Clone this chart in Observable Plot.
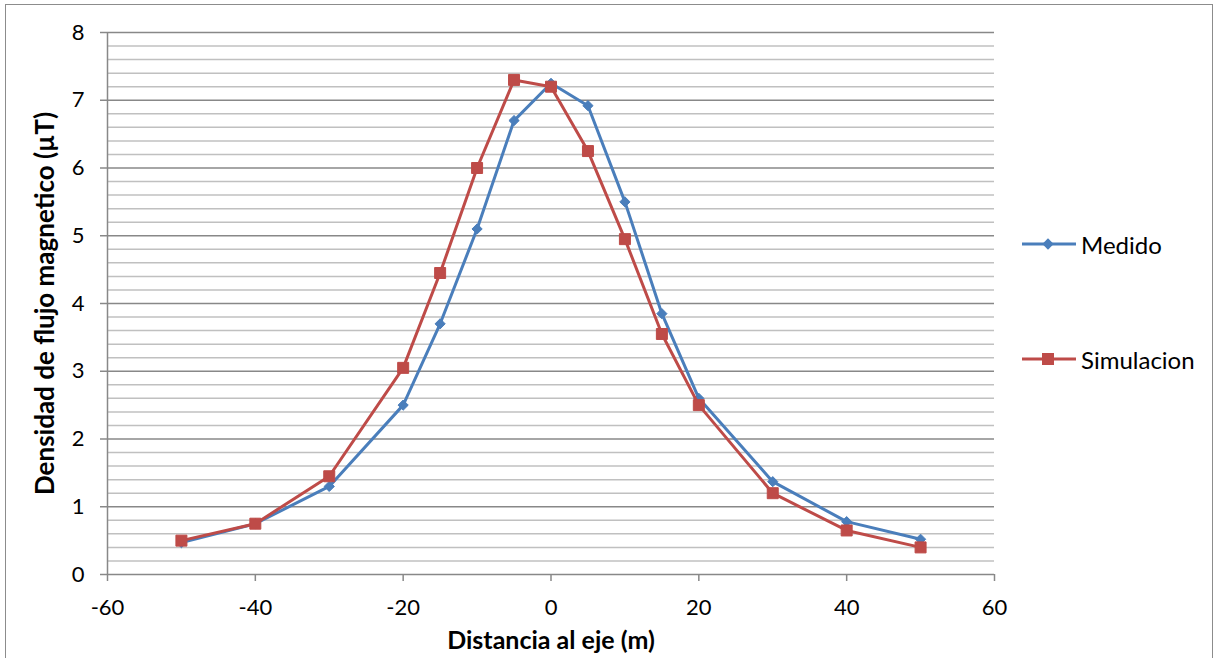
<!DOCTYPE html>
<html>
<head>
<meta charset="utf-8">
<script src="https://cdn.jsdelivr.net/npm/d3@7"></script>
<script src="https://cdn.jsdelivr.net/npm/@observablehq/plot@0.6"></script>
<style>
  html, body { margin: 0; padding: 0; background: #fff; }
  #wrap { position: relative; width: 1216px; height: 658px; overflow: hidden; font-family: Lato, "Open Sans", sans-serif; }
  #frame { position: absolute; left: 5px; top: 4px; width: 1208px; height: 670px; border: 1.5px solid #8c8c8c; box-sizing: border-box; }
  #chart { position: absolute; left: 0; top: 0; }
  .leg { position: absolute; display: flex; align-items: center; font-size: 24px; color: #000; }
  .leg svg { margin-right: 5px; }
</style>
</head>
<body>
<div id="wrap">
  <div id="frame"></div>
  <div id="chart"></div>
</div>
<script>
const distances = [-50, -40, -30, -20, -15, -10, -5, 0, 5, 10, 15, 20, 30, 40, 50];
const medido = [0.47, 0.75, 1.3, 2.5, 3.7, 5.1, 6.7, 7.25, 6.92, 5.5, 3.85, 2.6, 1.37, 0.78, 0.52];
const simulacion = [0.5, 0.75, 1.45, 3.05, 4.45, 6.0, 7.3, 7.2, 6.25, 4.95, 3.55, 2.5, 1.2, 0.65, 0.4];
const seriesNames = ["Medido", "Simulacion"];
const seriesColors = ["#4a7ebb", "#be4b48"];
const xTicks = [-60, -40, -20, 0, 20, 40, 60];
const yTicks = [0, 1, 2, 3, 4, 5, 6, 7, 8];
const xLabel = "Distancia al eje (m)";
const yLabel = "Densidad de flujo magnetico (µT)";

const dataM = distances.map((d, i) => ({x: d, y: medido[i]}));
const dataS = distances.map((d, i) => ({x: d, y: simulacion[i]}));
const yMinor = d3.range(1, 40).map(i => i / 5).filter(v => Math.abs(v - Math.round(v)) > 1e-9);

const chart = Plot.plot({
  width: 1216,
  height: 658,
  marginLeft: 107,
  marginRight: 222,
  marginTop: 32,
  marginBottom: 84,
  style: {fontFamily: "Lato, 'Open Sans', sans-serif", background: "transparent", overflow: "visible"},
  x: {domain: [-60, 60]},
  y: {domain: [0, 8]},
  marks: [
    Plot.ruleY(yMinor, {x1: -60, x2: 60, stroke: "#c0c0c0", strokeWidth: 1.5}),
    Plot.ruleY(yTicks, {x1: -60, x2: 60, stroke: "#888888", strokeWidth: 1.5}),
    Plot.ruleX([-60], {y1: 0, y2: 8, stroke: "#888888", strokeWidth: 1.5}),
    Plot.axisY(yTicks, {tickSize: 7, tickPadding: 16, stroke: "#888888", strokeWidth: 1.5, fill: "#000", fontSize: 22, label: null, tickFormat: d => String(d)}),
    Plot.axisX(xTicks, {tickSize: 7, tickPadding: 18, stroke: "#888888", strokeWidth: 1.5, fill: "#000", fontSize: 22, label: null, tickFormat: d => String(d)}),
    Plot.line(dataM, {x: "x", y: "y", stroke: seriesColors[0], strokeWidth: 3}),
    Plot.dot(dataM, {x: "x", y: "y", symbol: "diamond2", r: 4.6, fill: seriesColors[0], stroke: seriesColors[0], strokeWidth: 1}),
    Plot.line(dataS, {x: "x", y: "y", stroke: seriesColors[1], strokeWidth: 3}),
    Plot.dot(dataS, {x: "x", y: "y", symbol: "square", r: 6.2, fill: seriesColors[1], stroke: seriesColors[1], strokeWidth: 1}),
    Plot.text([xLabel], {frameAnchor: "bottom", textAnchor: "middle", lineAnchor: "middle", dy: 66, fontSize: 25, fontWeight: "bold", fill: "#000", text: d => d}),
    Plot.text([yLabel], {frameAnchor: "left", textAnchor: "middle", lineAnchor: "middle", dx: -62, rotate: -90, fontSize: 26, fontWeight: "bold", fill: "#000", text: d => d})
  ]
});
document.getElementById("chart").appendChild(chart);

// legend
const legendTops = [229, 344];
seriesNames.forEach((name, i) => {
  const div = document.createElement("div");
  div.className = "leg";
  div.style.left = "1022px";
  div.style.top = legendTops[i] + "px";
  const sym = i === 0
    ? `<rect x="22" y="11" width="8" height="8" transform="rotate(45 26 15)" fill="${seriesColors[i]}"/>`
    : `<rect x="20" y="9" width="12" height="12" fill="${seriesColors[i]}"/>`;
  div.innerHTML = `<svg width="54" height="30"><line x1="0" x2="54" y1="15" y2="15" stroke="${seriesColors[i]}" stroke-width="3"/>${sym}</svg><span>${name}</span>`;
  document.getElementById("wrap").appendChild(div);
});
</script>
</body>
</html>
